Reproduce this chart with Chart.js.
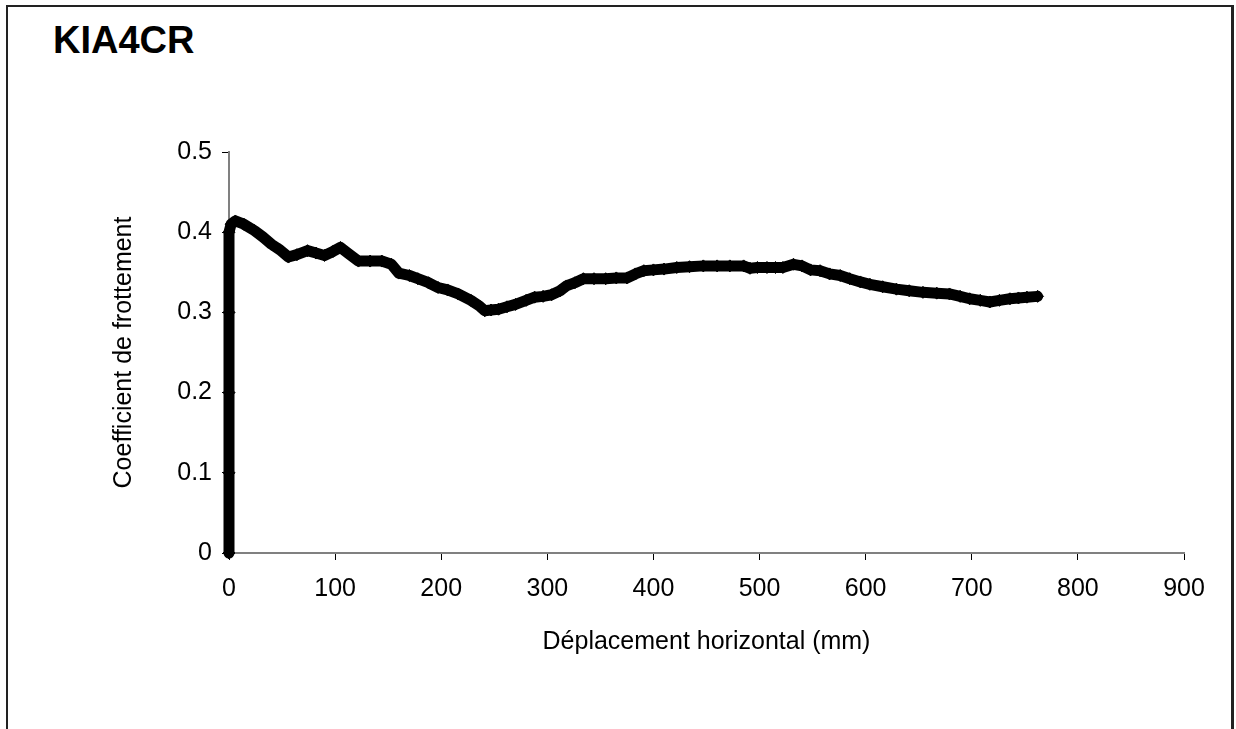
<!DOCTYPE html>
<html>
<head>
<meta charset="utf-8">
<script src="https://cdn.jsdelivr.net/npm/chart.js@4/dist/chart.umd.min.js"></script>
<style>
  html, body { margin: 0; padding: 0; background: #fff; overflow: hidden; }
  #wrap { position: relative; width: 1236px; height: 729px; }
  #frame { position: absolute; left: 6px; top: 5px; width: 1228px; height: 800px; border: 2px solid #222; border-right-width: 3px; box-sizing: border-box; }
  #title { position: absolute; left: 53px; top: 21px; font: bold 38px "Liberation Sans", Arial, sans-serif; line-height: 38px; color: #000; }
  canvas { position: absolute; left: 0; top: 0; }
</style>
</head>
<body>
<div id="wrap">
  <div id="frame"></div>
  <div id="title">KIA4CR</div>
  <canvas id="c" width="1236" height="729"></canvas>
</div>
<script>
const chartTitle = "KIA4CR";
const xAxisTitle = "Déplacement horizontal (mm)";
const yAxisTitle = "Coefficient de frottement";

const displacement = [0,0,0,0,0,2,6,14,24,32,40,48,56,64,74,82,90,98,105,112,122,133,144,153,160,170,178,188,197,206,216,228,236,241,247,254,262,270,280,288,296,304,312,318,326,334,344,355,365,375,383,391,400,410,422,434,447,460,472,485,491,498,507,515,522,532,540,548,557,566,576,585,595,604,616,629,641,654,667,679,689,698,708,717,726,736,744,752,762];
const friction = [0,0.1,0.2,0.3,0.4,0.410,0.414,0.410,0.402,0.394,0.385,0.378,0.369,0.372,0.377,0.374,0.371,0.376,0.381,0.374,0.364,0.364,0.364,0.360,0.349,0.346,0.342,0.337,0.331,0.328,0.323,0.315,0.308,0.302,0.303,0.304,0.307,0.310,0.315,0.319,0.320,0.322,0.327,0.333,0.337,0.342,0.342,0.342,0.343,0.343,0.348,0.352,0.353,0.354,0.356,0.357,0.358,0.358,0.358,0.358,0.355,0.356,0.356,0.356,0.356,0.360,0.358,0.353,0.352,0.348,0.346,0.342,0.338,0.335,0.332,0.329,0.327,0.325,0.324,0.323,0.320,0.317,0.315,0.313,0.315,0.317,0.318,0.319,0.320];

const xTicks = [0,100,200,300,400,500,600,700,800,900];
const yTicks = [0,0.1,0.2,0.3,0.4,0.5];

document.getElementById('title').textContent = chartTitle;

const points = displacement.map((x, i) => ({ x: x, y: friction[i] }));
const font = { family: '"Liberation Sans", Arial, sans-serif', size: 25 };

new Chart(document.getElementById('c'), {
  type: 'line',
  data: {
    datasets: [{
      data: points,
      clip: false,
      borderColor: '#000',
      backgroundColor: '#000',
      borderWidth: 11,
      borderJoinStyle: 'round',
      borderCapStyle: 'round',
      pointStyle: 'rectRot',
      pointRadius: 6,
      pointBackgroundColor: '#000',
      pointBorderColor: '#000',
      pointBorderWidth: 1,
      tension: 0,
      fill: false
    }]
  },
  options: {
    responsive: false,
    animation: false,
    events: [],
    layout: { padding: { left: 100, top: 152, right: 52, bottom: 60 } },
    plugins: { legend: { display: false }, tooltip: { enabled: false }, title: { display: false } },
    scales: {
      x: {
        type: 'linear',
        min: xTicks[0],
        max: xTicks[xTicks.length - 1],
        afterBuildTicks: (s) => { s.ticks = xTicks.map(v => ({ value: v })); },
        afterFit: (s) => { s.height = 116; },
        ticks: { color: '#000', font: font, padding: 14, maxRotation: 0, callback: (v) => String(v) },
        grid: { drawOnChartArea: false, drawTicks: true, tickLength: 7, color: '#000', lineWidth: 1 },
        border: { display: true, color: '#808080', width: 2 },
        title: { display: true, text: xAxisTitle, color: '#000', font: font, padding: { top: 0, bottom: 12 } }
      },
      y: {
        type: 'linear',
        min: yTicks[0],
        max: yTicks[yTicks.length - 1],
        afterBuildTicks: (s) => { s.ticks = yTicks.map(v => ({ value: v })); },
        afterFit: (s) => { s.width = 129; },
        ticks: { color: '#000', font: font, padding: 10, callback: (v) => String(Number(v.toFixed(1))) },
        grid: { drawOnChartArea: false, drawTicks: true, tickLength: 7, color: '#000', lineWidth: 1 },
        border: { display: true, color: '#808080', width: 2 },
        title: { display: true, text: yAxisTitle, color: '#000', font: font, padding: { top: 9, bottom: 0 } }
      }
    }
  }
});
</script>
</body>
</html>
